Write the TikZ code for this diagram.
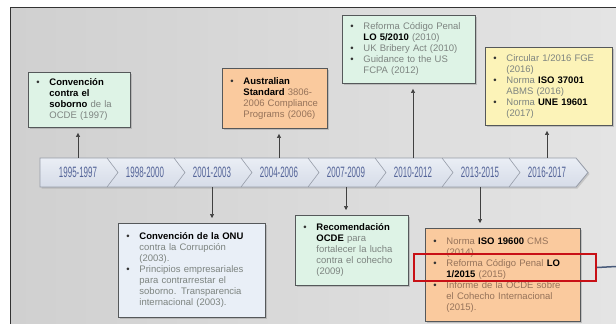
\documentclass[tikz,border=0pt]{standalone}
\usepackage{fontspec}
\setmainfont{Liberation Sans}
\usetikzlibrary{arrows.meta, shadows, positioning}
\definecolor{panelgray}{RGB}{208,208,208}
\definecolor{panellight}{RGB}{228,228,228}
\definecolor{bandtop}{RGB}{234,238,245}
\definecolor{bandbot}{RGB}{214,220,232}
\definecolor{bandline}{RGB}{150,156,168}
\definecolor{yeartext}{RGB}{84,100,152}
\definecolor{boxline}{RGB}{85,88,90}
\definecolor{mintfill}{RGB}{222,243,230}
\definecolor{peachfill}{RGB}{250,202,158}
\definecolor{lemonfill}{RGB}{252,243,184}
\definecolor{skyfill}{RGB}{233,239,247}
\definecolor{softtext}{RGB}{125,132,128}
\definecolor{peachtext}{RGB}{150,115,90}
\definecolor{hlred}{RGB}{200,16,22}
\definecolor{linkblue}{RGB}{72,90,122}

\newcommand{\kw}[1]{{\color{black}\bfseries #1}}
\newcommand{\bul}{\textcolor{black!80}{\textbullet}}
\newcommand{\yr}[1]{\scalebox{0.53}[1]{#1}}
\newenvironment{blist}{\begin{tabular}{@{}p{13pt}@{}l@{}}}{\end{tabular}}

\begin{document}
\begin{tikzpicture}[x=1pt, y=-1pt,
    box/.style={draw=boxline, line width=0.9pt, anchor=north west, inner xsep=8pt,
      inner ysep=5pt, align=left, font=\fontsize{9.5}{11}\selectfont,
      drop shadow={opacity=0.35, shadow xshift=1.5pt, shadow yshift=-1.5pt}},
    yearlab/.style={minimum width=60pt, minimum height=29pt, inner sep=0pt,
      text=yeartext, font=\fontsize{15}{15}\selectfont},
    link/.style={draw=black!75, line width=0.6pt, -{Triangle[width=4pt, length=4pt]},
      shorten >=5pt},
    sep/.style={draw=bandline, line width=0.6pt}
  ]
  \useasboundingbox (0,0) rectangle (616,324);
  \fill[left color=panelgray, right color=panellight] (10,7) rectangle (616,324);
  \draw[black!80, line width=1pt] (10,324) -- (10,7) -- (616,7);

  % timeline band
  \draw[bandline, line width=0.8pt, top color=bandtop, bottom color=bandbot,
    drop shadow={opacity=0.3, shadow xshift=1.5pt, shadow yshift=-1.5pt}]
    (40,158) -- (576,158) -- (588,172.5) -- (576,187) -- (40,187) -- cycle;
  \foreach \b in {107,174,...,509}
    \draw[sep] (\b,158) -- (\b+11,172.5) -- (\b,187);
  \foreach \lab [count=\i] in {1995-1997,1998-2000,2001-2003,2004-2006,
      2007-2009,2010-2012,2013-2015,2016-2017}
    \node[yearlab] (seg\i) at ({78+67*(\i-1)},172.5) {\yr{\lab}};

  % boxes above
  \node[box, fill=mintfill, text=softtext, text width=86pt, minimum height=55pt]
    (conv97) at (28,72) {\begin{blist}
      \bul & \kw{Convención}\\ & \kw{contra el}\\ & \kw{soborno} de la\\ & OCDE (1997)
    \end{blist}};
  \node[box, fill=peachfill, text=peachtext, text width=89pt, minimum height=60pt]
    (aus06) at (222,68) {\begin{blist}
      \bul & \kw{Australian}\\ & \kw{Standard} 3806-\\ & 2006 Compliance\\ & Programs (2006)
    \end{blist}};
  \node[box, fill=mintfill, text=softtext, text width=117pt, minimum height=68pt]
    (lo2010) at (342,15) {\begin{blist}
      \bul & Reforma Código Penal\\ & \kw{LO 5/2010} (2010)\\
      \bul & UK Bribery Act (2010)\\
      \bul & Guidance to the US\\ & FCPA (2012)
    \end{blist}};
  \node[box, fill=lemonfill, text=softtext, text width=111pt, minimum height=78pt]
    (iso37001) at (485,47) {\begin{blist}
      \bul & Circular 1/2016 FGE\\ & (2016)\\
      \bul & Norma \kw{ISO 37001}\\ & ABMS (2016)\\
      \bul & Norma \kw{UNE 19601}\\ & (2017)
    \end{blist}};

  % boxes below
  \node[box, fill=skyfill, text=softtext, text width=131pt, minimum height=94pt]
    (onu03) at (118,223) {\begin{blist}
      \bul & \kw{Convención de la ONU}\\ & contra la Corrupción\\ & (2003).\\
      \bul & Principios empresariales\\ & para contrarrestar el\\
        & soborno. Transparencia\\ & internacional (2003).
    \end{blist}};
  \node[box, fill=mintfill, text=softtext, text width=97pt, minimum height=70pt]
    (ocde09) at (295,215) {\begin{blist}
      \bul & \kw{Recomendación}\\ & \kw{OCDE} para\\ & fortalecer la lucha\\
        & contra el cohecho\\ & (2009)
    \end{blist}};
  \node[box, fill=peachfill, text=peachtext, text width=139pt, minimum height=93pt]
    (lo2015) at (425,228) {\begin{blist}
      \bul & Norma \kw{ISO 19600} CMS\\ & (2014)\\
      \bul & Reforma Código Penal \kw{LO}\\ & \kw{1/2015} (2015)\\
      \bul & Informe de la OCDE sobre\\ & el Cohecho Internacional\\ & (2015).
    \end{blist}};

  \draw[link] (seg1.north) -- (seg1.north |- conv97.south);
  \draw[link] (seg4.north) -- (seg4.north |- aus06.south);
  \draw[link] (seg6.north) -- (seg6.north |- lo2010.south);
  \draw[link] (seg8.north) -- (seg8.north |- iso37001.south);
  \draw[link] (seg3.south) -- (seg3.south |- onu03.north);
  \draw[link] (seg5.south) -- (seg5.south |- ocde09.north);
  \draw[link] (seg7.south) -- (seg7.south |- lo2015.north);

  % highlight
  \node[draw=hlred, line width=2pt, minimum width=182pt, minimum height=27pt,
    anchor=north west, inner sep=0pt] (mark15) at (413,253) {};
  \coordinate (rimedge) at (616,266.5);
  \draw[linkblue, line width=1.5pt] (mark15.east) -- (rimedge);
\end{tikzpicture}
\end{document}
